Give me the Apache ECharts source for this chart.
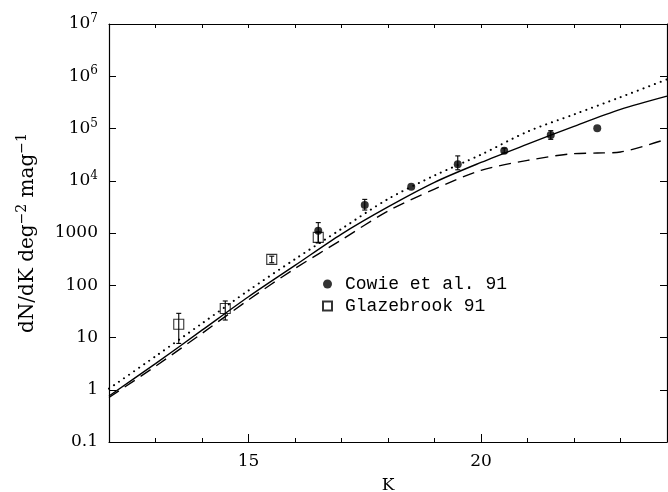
<!DOCTYPE html>
<html><head><meta charset="utf-8">
<script src="https://cdn.jsdelivr.net/npm/echarts@6/dist/echarts.min.js"></script>
<style>html,body{margin:0;padding:0;background:#fff}#c{width:668px;height:492px}</style>
</head><body><div id="c"></div>
<script>
// ---- data ----
const modelK = [12, 13, 14, 15, 16, 17, 18, 19, 20, 21, 22, 23, 24];
const solidModel = [0.76, 3.16, 13.8, 60.3, 240, 955, 3160, 9330, 22400, 50100, 110000, 232000, 417000];
const dottedModel = [1.05, 4.37, 18.6, 79.4, 316, 1200, 4470, 12600, 31600, 87100, 186000, 398000, 871000];
const dashedK = [12, 13, 14, 15, 16, 17, 18, 19, 20, 21, 22, 22.5, 23, 24];
const dashedModel = [0.71, 2.82, 12.0, 52.5, 209, 741, 2630, 6920, 15800, 24500, 33100, 33900, 35500, 63100];
const cowieK = [16.5, 17.5, 18.5, 19.5, 20.5, 21.5, 22.5];
const cowieN = [1100, 3440, 7700, 20600, 37700, 75100, 100700];
const cowieLow = [650, 2750, null, 16200, 34000, 62000, null];
const cowieHigh = [1580, 4400, null, 29900, 42000, 91000, null];
const glazeK = [13.5, 14.5, 15.5, 16.5];
const glazeN = [17.9, 36, 313, 826];
const glazeLow = [7.7, 21.6, 270, 650];
const glazeHigh = [29, 50, 360, 1050];
const xTickLabels = [15, 20];
const yTickLabels = ['0.1', '1', '10', '100', '1000', '10^4', '10^5', '10^6', '10^7'];
const legendNames = ['Cowie et al. 91', 'Glazebrook 91'];

// ---- build ----
const SERIF = '"DejaVu Serif", "Liberation Serif", serif';
const zip = (a, b) => a.map((v, i) => [v, b[i]]);
const errData = (k, lo, hi) => k.map((v, i) => [v, lo[i], hi[i]]).filter(d => d[1] != null);

function errRender(params, api) {
  const x = api.value(0);
  const p1 = api.coord([x, api.value(1)]);
  const p2 = api.coord([x, api.value(2)]);
  const c = 2.5;
  const st = { stroke: '#000', lineWidth: 1.1 };
  return {
    type: 'group',
    children: [
      { type: 'line', shape: { x1: p1[0], y1: p1[1], x2: p2[0], y2: p2[1] }, style: st },
      { type: 'line', shape: { x1: p1[0] - c, y1: p1[1], x2: p1[0] + c, y2: p1[1] }, style: st },
      { type: 'line', shape: { x1: p2[0] - c, y1: p2[1], x2: p2[0] + c, y2: p2[1] }, style: st }
    ]
  };
}

function yFmt(v) {
  const idx = Math.round(Math.log10(v)) + 1;
  const s = yTickLabels[idx];
  if (s === undefined) return '';
  if (s.indexOf('^') >= 0) {
    const p = s.split('^');
    return '{b|' + p[0] + '}{s|' + p[1] + '}';
  }
  return '{b|' + s + '}';
}

const axLine = { show: true, lineStyle: { color: '#000', width: 1.2 } };
const chart = echarts.init(document.getElementById('c'), null, { renderer: 'canvas' });
chart.setOption({
  backgroundColor: '#fff',
  animation: false,
  grid: { left: 109, right: 1, top: 24, bottom: 50, containLabel: false, outerBoundsMode: 'none' },
  legend: {
    data: [
      { name: legendNames[0], icon: 'circle' },
      { name: legendNames[1], icon: 'rect' }
    ],
    orient: 'vertical',
    left: 317,
    top: 270,
    itemWidth: 9,
    itemHeight: 9,
    itemGap: 4,
    textStyle: { fontFamily: '"Liberation Mono", "DejaVu Sans Mono", monospace', fontSize: 18, color: '#000', padding: [0, 0, 0, 8] }
  },
  xAxis: [
    {
      type: 'value', min: 12, max: 24, interval: 1,
      name: 'K', nameLocation: 'middle', nameGap: 35,
      nameTextStyle: { fontFamily: SERIF, fontSize: 17, color: '#000' },
      axisLine: axLine,
      axisTick: { inside: true, length: 4, lineStyle: { color: '#000', width: 1 } },
      axisLabel: {
        fontFamily: SERIF, fontSize: 17, color: '#000', margin: 11,
        formatter: v => (xTickLabels.indexOf(v) >= 0 ? String(v) : '')
      },
      splitLine: { show: false }
    },
    {
      type: 'value', min: 12, max: 24, interval: 1, position: 'top',
      axisLine: axLine,
      axisTick: { inside: true, length: 4, lineStyle: { color: '#000', width: 1 } },
      axisLabel: { show: false }, splitLine: { show: false }
    },
    {
      type: 'value', min: 12, max: 24, position: 'bottom',
      axisLine: { show: false },
      axisTick: { inside: true, length: 8, customValues: xTickLabels, lineStyle: { color: '#000', width: 1 } },
      axisLabel: { show: false }, splitLine: { show: false }
    }
  ],
  yAxis: [
    {
      type: 'log', logBase: 10, min: 0.1, max: 1e7,
      name: 'dN/dK deg{s|−2} mag{s|−1}', nameLocation: 'middle', nameGap: 68,
      nameTextStyle: {
        fontFamily: SERIF, fontSize: 20, color: '#000',
        rich: { s: { fontFamily: SERIF, fontSize: 14, color: '#000', padding: [0, 0, 12, 0] } }
      },
      axisLine: axLine,
      axisTick: { inside: true, length: 7, lineStyle: { color: '#000', width: 1 } },
      axisLabel: {
        margin: 11, color: '#000', fontFamily: SERIF, fontSize: 17,
        formatter: yFmt,
        rich: {
          b: { fontFamily: SERIF, fontSize: 17, color: '#000' },
          s: { fontFamily: SERIF, fontSize: 12, color: '#000', padding: [0, 0, 10, 0] }
        }
      },
      splitLine: { show: false }, minorTick: { show: false }
    },
    {
      type: 'log', logBase: 10, min: 0.1, max: 1e7, position: 'right',
      axisLine: axLine,
      axisTick: { inside: true, length: 7, lineStyle: { color: '#000', width: 1 } },
      axisLabel: { show: false }, splitLine: { show: false }
    }
  ],
  series: [
    { type: 'line', name: 'solid', data: zip(modelK, solidModel), smooth: 0.3, showSymbol: false, symbol: 'none',
      lineStyle: { color: '#000', width: 1.4, type: 'solid' }, z: 3 },
    { type: 'line', name: 'dotted', data: zip(modelK, dottedModel), smooth: 0.3, showSymbol: false, symbol: 'none',
      lineStyle: { color: '#000', width: 2, type: [0.1, 6], cap: 'round' }, z: 3 },
    { type: 'line', name: 'dashed', data: zip(dashedK, dashedModel), smooth: 0.3, showSymbol: false, symbol: 'none',
      lineStyle: { color: '#000', width: 1.4, type: [12, 7] }, z: 3 },
    { type: 'custom', name: 'cowieErr', renderItem: errRender, data: errData(cowieK, cowieLow, cowieHigh),
      encode: { x: 0, y: [1, 2] }, z: 4, silent: true },
    { type: 'custom', name: 'glazeErr', renderItem: errRender, data: errData(glazeK, glazeLow, glazeHigh),
      encode: { x: 0, y: [1, 2] }, z: 4, silent: true },
    { type: 'scatter', name: legendNames[1], data: zip(glazeK, glazeN), symbol: 'rect', symbolSize: 10,
      itemStyle: { color: 'rgba(255,255,255,0)', borderColor: '#000', borderWidth: 1.1 }, z: 5 },
    { type: 'scatter', name: legendNames[0], data: zip(cowieK, cowieN), symbol: 'circle', symbolSize: 8,
      itemStyle: { color: '#000' }, z: 6 }
  ]
});
</script>
</body></html>
